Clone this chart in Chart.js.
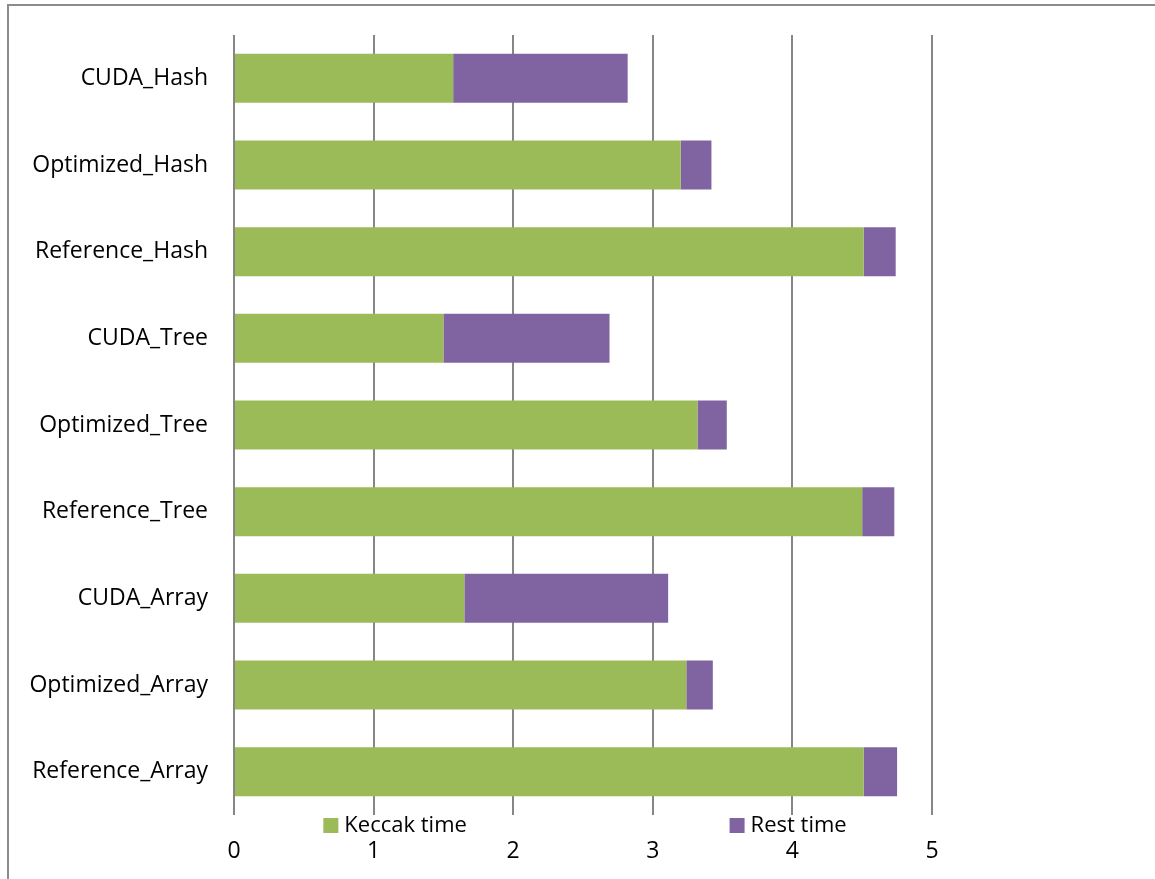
<!DOCTYPE html>
<html>
<head>
<meta charset="utf-8">
<script src="https://cdn.jsdelivr.net/npm/chart.js@4.4.1/dist/chart.umd.min.js"></script>
<style>
  html, body { margin: 0; padding: 0; background: #fff; }
  #wrap { width: 1155px; height: 879px; }
</style>
</head>
<body>
<div id="wrap"><canvas id="timeChart" width="1155" height="879"></canvas></div>
<script>
// Thời gian chạy (giây) cho từng cấu hình
const categories = [
    "CUDA_Hash", "Optimized_Hash", "Reference_Hash",
    "CUDA_Tree", "Optimized_Tree", "Reference_Tree",
    "CUDA_Array", "Optimized_Array", "Reference_Array"
];
const keccakTime = [1.57, 3.20, 4.51, 1.50, 3.32, 4.50, 1.65, 3.24, 4.51];
const restTime   = [1.25, 0.22, 0.23, 1.19, 0.21, 0.23, 1.46, 0.19, 0.24];
const xTicks = [0, 1, 2, 3, 4, 5];

const FONT = "'Open Sans', 'Noto Sans', sans-serif";

// Khung viền quanh biểu đồ
const framePlugin = {
    id: 'frame',
    beforeDraw(chart) {
        const c = chart.ctx;
        c.save();
        c.fillStyle = '#fff';
        c.fillRect(0, 0, chart.width, chart.height);
        c.strokeStyle = '#8c8c8c';
        c.lineWidth = 2;
        c.beginPath();
        c.moveTo(8, chart.height);
        c.lineTo(8, 5);
        c.lineTo(chart.width, 5);
        c.stroke();
        c.restore();
    }
};

// Chú thích vẽ giữa trục và nhãn trục x
const legendPlugin = {
    id: 'midLegend',
    afterDraw(chart) {
        const c = chart.ctx;
        const x = chart.scales.x;
        const y = chart.chartArea.bottom + 10;
        const starts = [x.getPixelForValue(0.64), x.getPixelForValue(3.55)];
        c.save();
        c.font = '22px ' + FONT;
        c.textBaseline = 'middle';
        chart.data.datasets.forEach((ds, i) => {
            c.fillStyle = ds.backgroundColor;
            c.fillRect(starts[i], y - 7, 15, 15);
            c.fillStyle = '#000';
            c.fillText(ds.label, starts[i] + 21, y + 1);
        });
        c.restore();
    }
};

const ctx = document.getElementById("timeChart").getContext("2d");
const chart = new Chart(ctx, {
    type: "bar",
    data: {
        labels: categories,
        datasets: [
            {
                label: "Keccak time",
                data: keccakTime,
                backgroundColor: "#9bbb59",
                barPercentage: 0.565,
                categoryPercentage: 1
            },
            {
                label: "Rest time",
                data: restTime,
                backgroundColor: "#8064a2",
                barPercentage: 0.565,
                categoryPercentage: 1
            }
        ]
    },
    options: {
        indexAxis: 'y',
        responsive: false,
        animation: false,
        layout: { padding: { top: 35, right: 223, left: 0, bottom: 0 } },
        plugins: {
            legend: { display: false },
            tooltip: { enabled: false }
        },
        scales: {
            x: {
                stacked: true,
                min: 0,
                max: 5,
                afterBuildTicks(scale) {
                    scale.ticks = xTicks.map(v => ({ value: v }));
                },
                afterFit(scale) {
                    scale.height = 64;
                    scale.paddingLeft = 0;
                    scale.paddingRight = 0;
                },
                grid: { color: '#868686', lineWidth: 2, drawTicks: false },
                border: { display: false },
                ticks: {
                    padding: 23,
                    color: '#000',
                    font: { family: FONT, size: 23 }
                }
            },
            y: {
                stacked: true,
                afterFit(scale) {
                    scale.width = 234;
                    scale.paddingTop = 0;
                    scale.paddingBottom = 0;
                },
                grid: { display: false, drawTicks: false },
                border: { display: false },
                ticks: {
                    padding: 26,
                    color: '#000',
                    font: { family: FONT, size: 23 }
                }
            }
        }
    },
    plugins: [framePlugin, legendPlugin]
});
</script>
</body>
</html>
